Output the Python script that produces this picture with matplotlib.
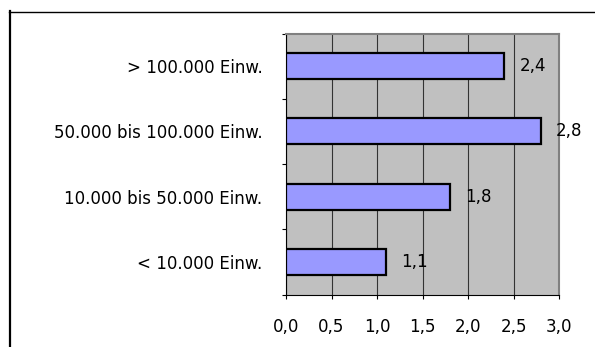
import matplotlib
matplotlib.use("Agg")
import matplotlib.pyplot as plt
from matplotlib.lines import Line2D
import numpy as np

# Einwohnergrößenklassen (bottom to top) and their values
categories = ["< 10.000 Einw.", "10.000 bis 50.000 Einw.",
              "50.000 bis 100.000 Einw.", "> 100.000 Einw."]
values = [1.1, 1.8, 2.8, 2.4]
x_ticks = [0.0, 0.5, 1.0, 1.5, 2.0, 2.5, 3.0]

W, H, DPI = 595, 347, 100
fig = plt.figure(figsize=(W / DPI, H / DPI), dpi=DPI)
fig.patch.set_facecolor("white")

# Plot area in pixel coordinates
left_px, right_px, top_px, bottom_px = 286, 559, 33.5, 294.5
ax = fig.add_axes([left_px / W, 1 - bottom_px / H,
                   (right_px - left_px) / W, (bottom_px - top_px) / H])
ax.set_facecolor("#C0C0C0")

y = np.arange(len(categories))
ax.barh(y, values, height=0.4, color="#9999FF", edgecolor="black",
        linewidth=1.6, zorder=3)

for yi, v in zip(y, values):
    ax.annotate(f"{v:.1f}".replace(".", ","), xy=(v, yi), xytext=(11, 0),
                textcoords="offset points", va="center", ha="left",
                fontsize=12, color="black", zorder=4)

ax.set_xlim(0, 3.0)
ax.set_ylim(-0.5, len(categories) - 0.5)

ax.set_xticks(x_ticks)
ax.set_xticklabels([f"{t:.1f}".replace(".", ",") for t in x_ticks], fontsize=12)
ax.tick_params(axis="x", direction="out", length=3, width=0.8,
               pad=14, colors="black")

# Category labels at bar centres, tick marks at category boundaries
ax.set_yticks(y)
ax.set_yticklabels(categories, fontsize=12)
ax.tick_params(axis="y", which="major", length=0, pad=17)
ax.set_yticks(np.arange(-0.5, len(categories)), minor=True)
ax.tick_params(axis="y", which="minor", direction="out", length=3, width=0.8)

ax.grid(axis="x", color="#333333", linewidth=0.8, zorder=1)
ax.grid(axis="y", visible=False)
ax.set_axisbelow(True)

for side in ("top", "right"):
    ax.spines[side].set_color("#808080")
    ax.spines[side].set_linewidth(1.5)
for side in ("left", "bottom"):
    ax.spines[side].set_color("black")
    ax.spines[side].set_linewidth(0.8)

# Outer chart frame
fig.add_artist(Line2D([9 / W, 1.0], [1 - 11.5 / H, 1 - 11.5 / H],
                      transform=fig.transFigure, color="black", linewidth=1.0))
fig.add_artist(Line2D([10 / W, 10 / W], [1 - 11 / H, 0.0],
                      transform=fig.transFigure, color="black", linewidth=1.6))

fig.savefig("out.png", dpi=DPI, facecolor="white")
